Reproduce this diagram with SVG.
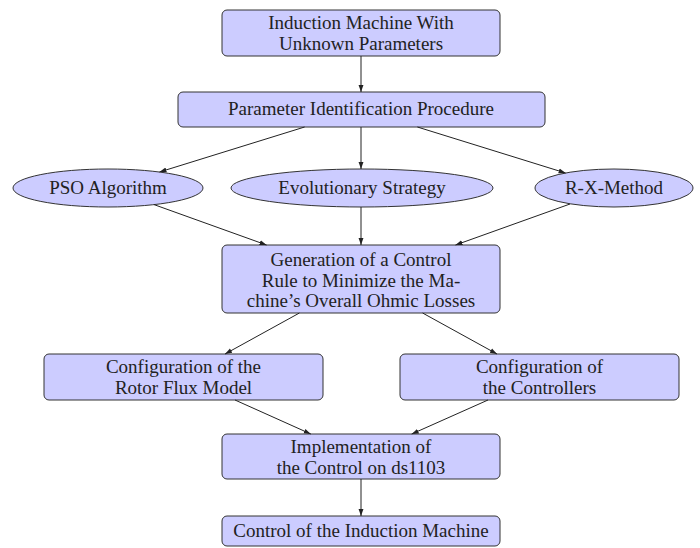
<svg xmlns="http://www.w3.org/2000/svg" width="700" height="548" viewBox="0 0 700 548">
<defs>
<marker id="ah" viewBox="0 0 10 10" refX="10" refY="5" markerWidth="7" markerHeight="7" orient="auto" markerUnits="userSpaceOnUse">
<path d="M0,1.5 L10,5 L0,8.5 z" fill="#222"/>
</marker>
</defs>
<style>
.n{fill:#ccccff;stroke:#333;stroke-width:1}
.t{font-family:"Liberation Serif","DejaVu Serif",serif;font-size:19px;fill:#222;text-anchor:middle}
.c line{stroke:#222;stroke-width:1;marker-end:url(#ah)}
</style>
<rect width="700" height="548" fill="#fff"/>
<g id="n1"><rect class="n" x="222" y="10" width="278" height="46" rx="5"/>
<text class="t" x="361" y="29">Induction Machine With</text>
<text class="t" x="361" y="50">Unknown Parameters</text></g>
<g id="n2"><rect class="n" x="178" y="92" width="367" height="35" rx="5"/>
<text class="t" x="361" y="115">Parameter Identification Procedure</text></g>
<g id="pso"><ellipse class="n" cx="108" cy="188" rx="95" ry="19"/>
<text class="t" x="108" y="194">PSO Algorithm</text></g>
<g id="evo"><ellipse class="n" cx="362" cy="188" rx="131" ry="19"/>
<text class="t" x="362" y="194">Evolutionary Strategy</text></g>
<g id="rx"><ellipse class="n" cx="614" cy="188" rx="79" ry="19"/>
<text class="t" x="614" y="194">R-X-Method</text></g>
<g id="gen"><rect class="n" x="222" y="245" width="278" height="68" rx="5"/>
<text class="t" x="361" y="266">Generation of a Control</text>
<text class="t" x="361" y="287">Rule to Minimize the Ma-</text>
<text class="t" x="361" y="307">chine’s Overall Ohmic Losses</text></g>
<g id="rot"><rect class="n" x="44" y="354" width="279" height="46" rx="5"/>
<text class="t" x="183.5" y="373">Configuration of the</text>
<text class="t" x="183.5" y="394">Rotor Flux Model</text></g>
<g id="ctl"><rect class="n" x="400" y="354" width="279" height="46" rx="5"/>
<text class="t" x="539.5" y="373">Configuration of</text>
<text class="t" x="539.5" y="394">the Controllers</text></g>
<g id="imp"><rect class="n" x="222" y="434" width="278" height="45" rx="5"/>
<text class="t" x="361" y="453">Implementation of</text>
<text class="t" x="361" y="474">the Control on ds1103</text></g>
<g id="ctrl"><rect class="n" x="222" y="516" width="278" height="30" rx="5"/>
<text class="t" x="361" y="537">Control of the Induction Machine</text></g>
<g class="c" id="connectors">
<line x1="361" y1="56" x2="361" y2="92"/>
<line x1="304.6" y1="127" x2="159.5" y2="172"/>
<line x1="361" y1="127" x2="361" y2="169"/>
<line x1="417.4" y1="127" x2="565.6" y2="173"/>
<line x1="154" y1="204.6" x2="266.5" y2="245"/>
<line x1="361" y1="207" x2="361" y2="245"/>
<line x1="570" y1="204" x2="455.5" y2="245"/>
<line x1="299.4" y1="313" x2="225" y2="354"/>
<line x1="422.6" y1="313" x2="497" y2="354"/>
<line x1="235" y1="400" x2="310.8" y2="434"/>
<line x1="488" y1="400" x2="411.7" y2="434"/>
<line x1="361" y1="479" x2="361" y2="516"/>
</g>
</svg>
